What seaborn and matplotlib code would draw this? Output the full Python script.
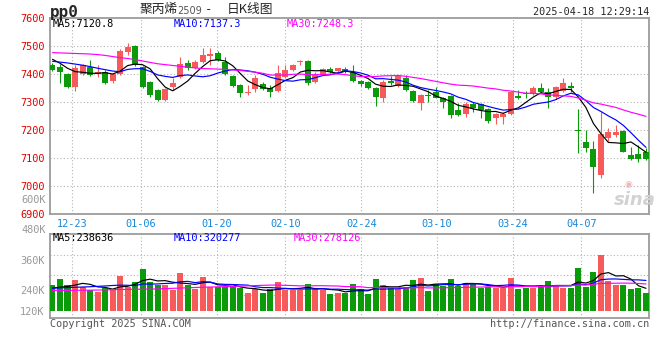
import matplotlib
matplotlib.use("Agg")
import matplotlib.pyplot as plt
import numpy as np
import pandas as pd
import seaborn as sns

# PP2509 daily K, 2024-12-18 .. 2025-04-18
opens = [7433, 7424, 7401, 7355, 7399, 7427, 7399, 7406, 7375, 7399,
         7481, 7502, 7427, 7373, 7343, 7307, 7355, 7391, 7439, 7423,
         7442, 7466, 7477, 7445, 7395, 7361, 7334, 7347, 7365, 7351,
         7340, 7391, 7415, 7445, 7447, 7373, 7399, 7418, 7411, 7417,
         7409, 7377, 7373, 7352, 7316, 7377, 7358, 7387, 7340, 7295,
         7325, 7335, 7316, 7320, 7271, 7257, 7292, 7292, 7275, 7244,
         7248, 7256, 7322, 7334, 7329, 7352, 7337, 7319, 7340, 7358,
         7201, 7158, 7132, 7039, 7172, 7182, 7197, 7110, 7114, 7122]
highs = [7439, 7435, 7404, 7433, 7437, 7451, 7433, 7415, 7403, 7489,
         7510, 7504, 7430, 7375, 7346, 7352, 7385, 7463, 7451, 7451,
         7495, 7493, 7483, 7463, 7397, 7363, 7361, 7397, 7371, 7361,
         7433, 7433, 7435, 7451, 7450, 7409, 7421, 7427, 7423, 7427,
         7433, 7379, 7375, 7354, 7379, 7395, 7397, 7397, 7343, 7328,
         7343, 7355, 7318, 7325, 7295, 7299, 7299, 7297, 7280, 7260,
         7265, 7340, 7343, 7340, 7359, 7367, 7352, 7359, 7387, 7373,
         7275, 7200, 7160, 7266, 7206, 7218, 7200, 7138, 7146, 7137]
lows = [7411, 7367, 7352, 7340, 7396, 7395, 7391, 7363, 7369, 7397,
        7469, 7430, 7349, 7319, 7304, 7304, 7343, 7387, 7415, 7418,
        7439, 7433, 7447, 7397, 7355, 7319, 7325, 7335, 7343, 7319,
        7337, 7385, 7411, 7433, 7361, 7367, 7397, 7403, 7407, 7403,
        7373, 7359, 7347, 7287, 7299, 7361, 7355, 7340, 7299, 7272,
        7299, 7313, 7277, 7244, 7251, 7248, 7265, 7244, 7224, 7220,
        7220, 7254, 7311, 7313, 7325, 7331, 7277, 7311, 7337, 7337,
        7116, 7120, 6975, 7027, 7160, 7176, 7120, 7092, 7086, 7092]
closes = [7415, 7407, 7355, 7423, 7433, 7397, 7406, 7367, 7399, 7483,
          7498, 7433, 7355, 7325, 7307, 7347, 7367, 7435, 7421, 7445,
          7469, 7471, 7451, 7399, 7359, 7331, 7337, 7385, 7347, 7337,
          7405, 7415, 7433, 7448, 7367, 7397, 7418, 7409, 7421, 7409,
          7375, 7365, 7352, 7319, 7373, 7369, 7393, 7343, 7304, 7325,
          7320, 7316, 7299, 7252, 7254, 7292, 7280, 7271, 7232, 7256,
          7258, 7337, 7313, 7329, 7352, 7335, 7319, 7355, 7367, 7349,
          7198, 7134, 7068, 7185, 7191, 7191, 7122, 7096, 7096, 7096]
# volume in thousand lots
volumes = [272, 335, 272, 324, 248, 222, 202, 244, 233, 366,
           254, 306, 440, 306, 272, 272, 222, 400, 275, 230,
           358, 254, 257, 257, 257, 240, 190, 230, 187, 230,
           306, 222, 218, 218, 282, 230, 218, 180, 190, 187,
           280, 231, 175, 336, 273, 255, 231, 255, 325, 343,
           210, 280, 266, 336, 266, 298, 280, 238, 255, 238,
           238, 343, 231, 245, 245, 263, 315, 273, 245, 245,
           448, 255, 406, 588, 318, 272, 268, 228, 240, 185]

# moving averages before the window is full
ma5_head = [7453, 7439, 7421, 7409]
ma10_head = [7446, 7443, 7440, 7436, 7432, 7427, 7421, 7416, 7411]
ma30_head = [7477, 7476, 7475, 7474, 7473, 7472, 7470, 7467, 7463, 7459,
             7456, 7452, 7447, 7442, 7437, 7434, 7431, 7428, 7425, 7422,
             7420, 7419, 7418, 7417, 7415, 7413, 7410, 7407, 7403]
vol_ma5_head = [241, 250, 258, 272]
vol_ma10_head = [240, 243, 246, 249, 252, 255, 259, 263, 268]
vol_ma30_head = [217, 217, 217, 218, 218, 219, 220, 222, 224, 226,
                 227, 228, 229, 230, 232, 235, 238, 241, 244, 247,
                 250, 252, 254, 256, 258, 261, 264, 267, 270]

price_ma_text = ["MA5:7120.8", "MA10:7137.3", "MA30:7248.3"]
vol_ma_text = ["MA5:238636", "MA10:320277", "MA30:278126"]

tick_labels = ["12-23", "01-06", "01-20", "02-10", "02-24", "03-10", "03-24", "04-07"]
tick_pos = [2.6, 11.8, 21.9, 31.0, 41.1, 51.2, 61.3, 70.4]
price_ticks = [6900, 7000, 7100, 7200, 7300, 7400, 7500, 7600]
vol_ticks = [0, 217, 532]
vol_tick_labels = ["120K", "240K", "360K"]

RED = "#f65a5a"
GREEN = "#0a9a0a"
GRID = "#b4b4b4"
FRAME = "#9c9c9c"
MONO = "DejaVu Sans Mono"

sns.set_style("white")
plt.rcParams["font.family"] = [MONO, "Noto Sans CJK SC"]

W, H = 660, 360


def px(x, y):
    return x / W, 1 - y / H


def with_head(values, window, head):
    s = pd.Series(values, dtype=float).rolling(window).mean()
    s.iloc[:len(head)] = head
    return s.values


fig = plt.figure(figsize=(W / 100, H / 100), dpi=100)
ax = fig.add_axes([50 / W, 1 - 213.7 / H, 599 / W, 195.7 / H])
axv = fig.add_axes([50 / W, 1 - 318 / H, 599 / W, 84 / H])

idx = np.arange(len(closes))
o = np.array(opens, dtype=float)
c = np.array(closes, dtype=float)
up = c > o
colors = np.where(up, RED, GREEN)

# candles
ax.vlines(idx, lows, highs, colors=colors, lw=0.8, zorder=3)
ax.bar(idx, np.maximum(np.abs(c - o), 2.5), bottom=np.minimum(o, c), width=0.8,
       color=colors, linewidth=0, zorder=3)

for win, head, col in [(5, ma5_head, "black"), (10, ma10_head, "#0000ff"), (30, ma30_head, "#ff00ff")]:
    sns.lineplot(x=idx, y=with_head(closes, win, head), ax=ax, color=col, lw=0.85, zorder=4)

# volume
axv.bar(idx, volumes, width=0.8, color=colors, linewidth=0, zorder=3)
for win, head, col in [(5, vol_ma5_head, "black"), (10, vol_ma10_head, "#0000ff"), (30, vol_ma30_head, "#ff00ff")]:
    sns.lineplot(x=idx, y=with_head(volumes, win, head), ax=axv, color=col, lw=0.85, zorder=4)

dots = (0, (1, 2))
for a, hlines in [(ax, price_ticks[1:-1]), (axv, [168, 378, 588])]:
    for yv in hlines:
        a.axhline(yv, color=GRID, lw=0.8, ls=dots, zorder=1)
    for xv in tick_pos:
        a.axvline(xv, color=GRID, lw=0.8, ls=dots, zorder=1)
    a.set_xlim(-0.33, 79.4)
    for sp in a.spines.values():
        sp.set_color(FRAME)
        sp.set_linewidth(1.3)
    a.set_xlabel("")
    a.set_ylabel("")

ax.set_ylim(6900, 7601)
ax.set_yticks(price_ticks)
ax.set_yticklabels([str(t) for t in price_ticks], color="#e00000", fontsize=7.4, family=MONO)
ax.set_xticks(tick_pos)
ax.set_xticklabels(tick_labels, color="#1688d8", fontsize=7.4, family=MONO)
ax.tick_params(axis="both", length=0, pad=4)

axv.set_ylim(-73, 808)
axv.set_yticks(vol_ticks)
axv.set_yticklabels(vol_tick_labels, color="#999999", fontsize=7.4, family=MONO)
axv.set_xticks([])
axv.tick_params(axis="both", length=0, pad=4)

# header and legends
fig.text(*px(50, 12), "pp0", fontsize=11.5, fontweight="bold", family=MONO, va="center")
fig.text(*px(140, 10), "聚丙烯", fontsize=9.2, family="Noto Sans CJK SC", va="center")
fig.text(*px(177, 11), "2509", fontsize=7, color="#555555", family="DejaVu Sans", va="center")
fig.text(*px(209, 10), "-", fontsize=9, family=MONO, va="center", ha="center")
fig.text(*px(227, 10), "日K线图", fontsize=9.2, family="Noto Sans CJK SC", va="center")
fig.text(*px(649, 12), "2025-04-18 12:29:14", fontsize=7.3, family=MONO, va="center", ha="right")

for (x, col), t in zip([(53, "black"), (174, "#0000ff"), (287, "#ff00ff")], price_ma_text):
    fig.text(*px(x, 24), t, fontsize=7.4, color=col, family=MONO, va="center")
for (x, col), t in zip([(53, "black"), (174, "#0000ff"), (294, "#ff00ff")], vol_ma_text):
    fig.text(*px(x, 238), t, fontsize=7.4, color=col, family=MONO, va="center")

fig.text(*px(46, 200), "600K", fontsize=7.4, color="#999999", family=MONO, va="center", ha="right")
fig.text(*px(46, 230.5), "480K", fontsize=7.4, color="#999999", family=MONO, va="center", ha="right")

fig.text(*px(50, 324), "Copyright 2025 SINA.COM", fontsize=7.3, color="#555555", family=MONO, va="center")
fig.text(*px(649, 324), "http://finance.sina.com.cn", fontsize=7.3, color="#555555", family=MONO,
         va="center", ha="right")

# sina watermark
fig.text(*px(628, 184), "◉", fontsize=6.5, color="#f2b5b5", family="DejaVu Sans", va="center", ha="center")
fig.text(*px(635, 200), "sina", fontsize=13, color="#d2d2d2", family="DejaVu Sans", fontweight="bold",
         style="italic", va="center", ha="center")

fig.savefig("out.png", dpi=100, facecolor="white")
